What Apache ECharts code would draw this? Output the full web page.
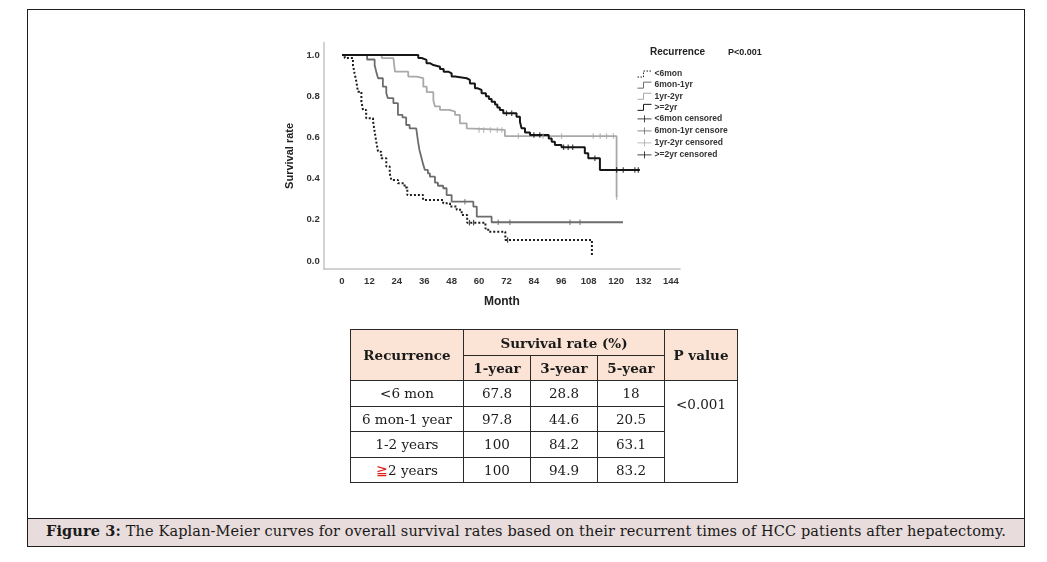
<!DOCTYPE html>
<html>
<head>
<meta charset="utf-8">
<script src="https://cdn.jsdelivr.net/npm/echarts@6/dist/echarts.min.js"></script>
<style>
html,body{margin:0;padding:0;background:#fff;}
#wrap{position:relative;width:1047px;height:562px;overflow:hidden;background:#fff;}
#frame{position:absolute;left:27px;top:9px;width:998px;height:538px;border:1.5px solid #1e1e1e;box-sizing:border-box;}
#chart{position:absolute;left:0;top:0;width:1047px;height:562px;}
#caption{position:absolute;left:27px;top:517.5px;width:998px;height:29.5px;box-sizing:border-box;border:1.5px solid #1e1e1e;background:#e8dcdc;}
#captext{position:absolute;left:18px;top:3.5px;font-family:"DejaVu Serif",serif;font-size:14.5px;color:#1a1a1a;white-space:nowrap;}
#tbl{position:absolute;left:350px;top:329px;border-collapse:collapse;font-family:"DejaVu Serif",serif;font-size:13.5px;color:#1a1a1a;}
#tbl td,#tbl th{border:1px solid #2a2a2a;padding:0;text-align:center;vertical-align:middle;box-sizing:border-box;}
#tbl th{background:#fbe4d5;font-weight:bold;font-size:13.5px;}
#tbl td.p{vertical-align:top;padding-top:15px;}
.red{color:#e0201c;}
</style>
</head>
<body>
<div id="wrap">
  <div id="frame"></div>
  <div id="chart"></div>
  <table id="tbl"></table>
  <div id="caption"><div id="captext"></div></div>
</div>
<script>
// ---------- data ----------
const xTickLabels = [0, 12, 24, 36, 48, 60, 72, 84, 96, 108, 120, 132, 144];
const yTickLabels = [0.0, 0.2, 0.4, 0.6, 0.8, 1.0];
const groupNames = ['<6mon', '6mon-1yr', '1yr-2yr', '>=2yr'];
const censoredNames = ['<6mon censored', '6mon-1yr censore', '1yr-2yr censored', '>=2yr censored'];

// [month, survival] - value after each event
const lt6mon = [[0,1],[1.2,0.985],[4.8,0.951],[5.5,0.911],[6.3,0.87],[7,0.822],[8.5,0.773],[9.2,0.733],[10.6,0.693],[13.6,0.678],[14.3,0.628],[15,0.579],[15.8,0.53],[17.2,0.498],[19.4,0.458],[20.9,0.425],[21.6,0.393],[24.5,0.377],[27.4,0.356],[28.6,0.32],[35.5,0.296],[44.3,0.28],[47.3,0.264],[50.2,0.248],[52.4,0.223],[54.8,0.186],[62.8,0.158],[64,0.142],[71.5,0.102],[109.4,0.02]];
const m6to1yr = [[0,1],[11,0.978],[14.3,0.95],[15,0.919],[15.8,0.887],[17.9,0.846],[19.4,0.814],[20.1,0.79],[22.5,0.766],[24.5,0.709],[26.5,0.697],[28.1,0.66],[29.6,0.644],[32.5,0.636],[33.3,0.579],[33.9,0.539],[34.7,0.505],[35.5,0.47],[36.3,0.442],[37.6,0.425],[38.5,0.409],[40.7,0.38],[42,0.365],[44.3,0.353],[45.8,0.32],[48,0.288],[57.5,0.264],[59,0.215],[65.5,0.188],[123,0.188]];
const y1to2 = [[0,1],[17.4,0.985],[22.5,0.976],[23.2,0.919],[29,0.895],[32.7,0.887],[35.6,0.846],[37.1,0.82],[40,0.78],[40.7,0.75],[42.9,0.733],[47,0.725],[49.5,0.709],[51.6,0.668],[54.6,0.644],[55.3,0.636],[71.3,0.606],[120.2,0.31]];
const ge2yr = [[0,1],[33.4,0.985],[34.9,0.976],[37,0.96],[38.5,0.951],[40,0.943],[42.9,0.932],[44.5,0.919],[46.5,0.911],[48,0.895],[49.5,0.887],[54.6,0.879],[56,0.862],[58.2,0.838],[59.5,0.83],[61.1,0.814],[63,0.8],[64.3,0.786],[65.5,0.773],[67,0.76],[68,0.745],[69.1,0.733],[70.6,0.717],[76.4,0.7],[77.9,0.676],[78.6,0.644],[80.1,0.624],[82.3,0.612],[90.5,0.595],[91.8,0.579],[93.2,0.563],[96.1,0.552],[106.3,0.523],[107.8,0.498],[112.9,0.442],[130.4,0.442]];

const lt6monCens = [[55.8,0.186],[57.6,0.186],[72.5,0.102]];
const m6to1yrCens = [[53.8,0.288],[68.4,0.188],[73.5,0.188],[99.8,0.188],[104.2,0.188]];
const y1to2Cens = [[60,0.636],[62,0.636],[65,0.636],[68,0.636],[70,0.636],[77.2,0.606],[88,0.606],[96.1,0.606],[110,0.606],[113,0.606],[115.8,0.606],[118.8,0.606],[120.2,0.31]];
const ge2yrCens = [[72,0.717],[74.3,0.717],[84,0.612],[86.6,0.612],[97,0.552],[99,0.552],[101,0.552],[110.7,0.498],[120.2,0.442],[123.1,0.442],[128.2,0.442],[129.7,0.442]];

// table data
const tableGroups = ['<6 mon', '6 mon-1 year', '1-2 years', '\u22672 years'];
const oneYear = ['67.8', '97.8', '100', '100'];
const threeYear = ['28.8', '44.6', '84.2', '94.9'];
const fiveYear = ['18', '20.5', '63.1', '83.2'];
const pValue = '<0.001';
const captionBold = 'Figure 3:';
const captionText = ' The Kaplan-Meier curves for overall survival rates based on their recurrent times of HCC patients after hepatectomy.';

// ---------- chart ----------
const colors = ['#1c1c1c', '#6c6c6c', '#a9a9a9', '#161616'];
const widths = [2, 1.8, 1.8, 2];
const curves = [lt6mon, m6to1yr, y1to2, ge2yr];
const cens = [lt6monCens, m6to1yrCens, y1to2Cens, ge2yrCens];

const series = [];
[2, 1, 0, 3].forEach(i => {
  series.push({
    name: groupNames[i], type: 'line', step: 'end', data: curves[i],
    symbol: 'none', color: colors[i], z: 2 + (i === 3 ? 1 : 0),
    lineStyle: {color: colors[i], width: widths[i], type: i === 0 ? [2, 2] : 'solid'}
  });
});
[0, 1, 2, 3].forEach(i => {
  series.push({
    name: censoredNames[i], type: 'scatter', data: cens[i],
    symbol: 'rect', symbolSize: [1.2, 5.5], color: colors[i], z: 4,
    itemStyle: {color: colors[i]}
  });
});

const stepIcon = 'path://M0,7 L6,7 L6,1 L14,1';
const crossIcon = 'path://M0,5 L14,5 M7,1.5 L7,8.5';
const legendData = [];
groupNames.forEach((n, i) => legendData.push({
  name: n, icon: stepIcon,
  itemStyle: {color: 'none', borderColor: colors[i], borderWidth: 1, borderType: i === 0 ? [1.5, 1.5] : 'solid'}
}));
censoredNames.forEach((n, i) => legendData.push({
  name: n, icon: crossIcon,
  itemStyle: {color: 'none', borderColor: colors[i], borderWidth: 1}
}));

const labelFont = {fontFamily: 'Liberation Sans, Arial, sans-serif', fontWeight: 'bold', color: '#333'};

const chart = echarts.init(document.getElementById('chart'), null, {renderer: 'canvas'});
chart.setOption({
  animation: false,
  backgroundColor: 'transparent',
  grid: {left: 323.7, top: 42.6, width: 356.4, height: 226.6},
  xAxis: {
    type: 'value', min: -8, max: 148, interval: 4,
    axisLine: {show: true, onZero: false, lineStyle: {color: '#c4c4c4', width: 1.5}},
    axisTick: {show: false}, splitLine: {show: false},
    axisLabel: Object.assign({
      fontSize: 9.5, margin: 7,
      formatter: v => (xTickLabels.indexOf(Math.round(v)) >= 0 && Math.abs(v - Math.round(v)) < 1e-6) ? String(Math.round(v)) : ''
    }, labelFont),
    name: 'Month', nameLocation: 'middle', nameGap: 26,
    nameTextStyle: Object.assign({fontSize: 12}, labelFont, {color: '#222'})
  },
  yAxis: {
    type: 'value', min: -0.04, max: 1.06, interval: 0.02,
    axisLine: {show: true, onZero: false, lineStyle: {color: '#c4c4c4', width: 1.5}},
    axisTick: {show: false}, splitLine: {show: false},
    axisLabel: Object.assign({
      fontSize: 9.5, margin: 4,
      formatter: v => {
        const hit = yTickLabels.find(t => Math.abs(t - v) < 1e-6);
        return hit === undefined ? '' : hit.toFixed(1);
      }
    }, labelFont),
    name: 'Survival rate', nameLocation: 'middle', nameGap: 28,
    nameTextStyle: Object.assign({fontSize: 11}, labelFont, {color: '#222'})
  },
  legend: {
    orient: 'vertical', left: 630, top: 63.5, itemWidth: 14, itemHeight: 7, itemGap: 0,
    selectedMode: false, data: legendData,
    textStyle: {fontFamily: 'Liberation Sans, Arial, sans-serif', fontWeight: 'bold', fontSize: 8.5, color: '#333', lineHeight: 11.1, padding: [0, 0, 0, -2]}
  },
  graphic: [
    {type: 'text', left: 650, top: 47, style: {text: 'Recurrence', font: 'bold 10px "Liberation Sans", Arial, sans-serif', fill: '#222'}},
    {type: 'text', left: 728, top: 48, style: {text: 'P<0.001', font: 'bold 9px "Liberation Sans", Arial, sans-serif', fill: '#222'}}
  ],
  series: series
});

// ---------- table ----------
const colW = [113, 67, 67, 67, 73];
const tbl = document.getElementById('tbl');
let html = '<colgroup>' + colW.map(w => `<col style="width:${w}px">`).join('') + '</colgroup>';
html += '<tr style="height:26px"><th rowspan="2">Recurrence</th><th colspan="3">Survival rate (%)</th><th rowspan="2">P value</th></tr>';
html += '<tr style="height:25px"><th>1-year</th><th>3-year</th><th>5-year</th></tr>';
const rowH = [25.5, 25.5, 25.5, 25.5];
tableGroups.forEach((g, i) => {
  let label = g;
  if (g.charAt(0) === '\u2267') label = '<span class="red">\u2267</span>' + g.slice(1);
  else label = g.replace('<', '&lt;');
  html += `<tr style="height:${rowH[i]}px"><td>${label}</td><td>${oneYear[i]}</td><td>${threeYear[i]}</td><td>${fiveYear[i]}</td>`;
  if (i === 0) html += `<td class="p" rowspan="4">${pValue.replace('<', '&lt;')}</td>`;
  html += '</tr>';
});
tbl.innerHTML = html;
tbl.style.width = colW.reduce((a, b) => a + b, 0) + 'px';
tbl.style.tableLayout = 'fixed';

// ---------- caption ----------
const cap = document.getElementById('captext');
cap.innerHTML = '<b>' + captionBold + '</b>' + captionText;
const target = 960;
const w = cap.getBoundingClientRect().width;
const n = (captionBold + captionText).length;
cap.style.letterSpacing = ((target - w) / n).toFixed(3) + 'px';
</script>
</body>
</html>
